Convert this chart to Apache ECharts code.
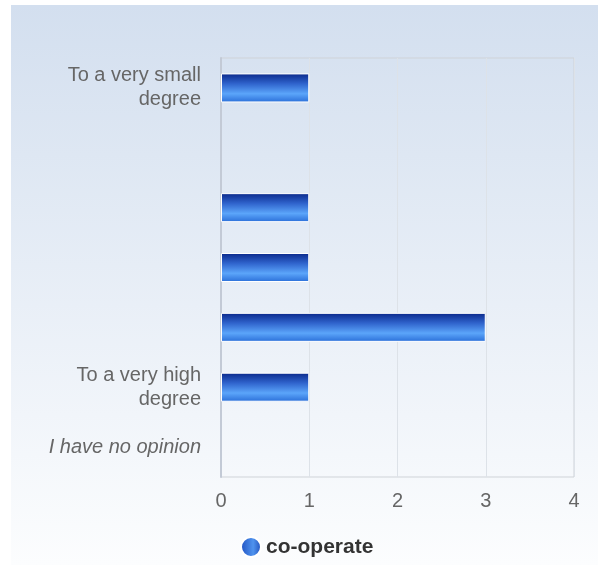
<!DOCTYPE html>
<html><head><meta charset="utf-8">
<script src="https://cdn.jsdelivr.net/npm/echarts@6/dist/echarts.min.js"></script>
<style>html,body{margin:0;padding:0;background:#fff;}#c{width:598px;height:565px;}</style>
</head><body><div id="c"></div>
<script>
var categories = ["To a very small\ndegree", "", "", "", "", "To a very high\ndegree", "I have no opinion"];
var italicCategory = "I have no opinion";
var seriesName = "co-operate";
var values = [1, 0, 1, 1, 3, 1, 0];
var xTicks = [0, 1, 2, 3, 4];

var chart = echarts.init(document.getElementById('c'));
var barGrad = new echarts.graphic.LinearGradient(0, 0, 0, 1, [
  {offset: 0, color: '#0a288a'},
  {offset: 0.35, color: '#2f63cc'},
  {offset: 0.7, color: '#5ba5fa'},
  {offset: 1, color: '#2a6ed8'}
]);
var legendGrad = new echarts.graphic.LinearGradient(0, 0, 1, 0, [
  {offset: 0, color: '#1e4fc0'},
  {offset: 0.6, color: '#4f93ee'},
  {offset: 1, color: '#1d4bb8'}
]);
var barData = values.map(function (v) {
  return v === 0 ? {value: v, itemStyle: {borderWidth: 0}} : v;
});
var FONT = 'Liberation Sans, Arial';
chart.setOption({
  animation: false,
  graphic: [{
    type: 'rect', z: -10, silent: true,
    shape: {x: 11, y: 5, width: 587, height: 560},
    style: {fill: new echarts.graphic.LinearGradient(0, 0, 0, 1, [
      {offset: 0, color: '#d3dfef'},
      {offset: 1, color: '#fcfdfe'}
    ])}
  }],
  grid: {left: 221, right: 24, top: 58, bottom: 88, show: true, borderColor: '#cfd3d8', borderWidth: 1, backgroundColor: 'transparent'},
  legend: {
    bottom: 2, left: 235,
    data: [{name: seriesName, icon: 'circle', itemStyle: {color: legendGrad}}],
    itemWidth: 20, itemHeight: 20, itemGap: 7,
    textStyle: {fontFamily: FONT, fontSize: 21, fontWeight: 'bold', color: '#333'}
  },
  xAxis: {
    type: 'value', min: 0, max: 4, interval: 1,
    axisLine: {show: false}, axisTick: {show: false},
    splitLine: {show: true, lineStyle: {color: '#dde2e8', width: 1}},
    axisLabel: {fontFamily: FONT, fontSize: 20, color: '#666', margin: 14,
      formatter: function (v) { return xTicks.indexOf(v) >= 0 ? String(v) : ''; }}
  },
  yAxis: {
    type: 'category', inverse: true, data: categories,
    axisLine: {show: true, lineStyle: {color: '#c3cad6', width: 2}},
    axisTick: {show: false},
    splitLine: {show: false},
    axisLabel: {
      fontFamily: FONT, fontSize: 20, color: '#666', margin: 20, lineHeight: 24, align: 'right',
      formatter: function (v) {
        if (v === italicCategory) return '{it|' + v + '}';
        return v;
      },
      rich: {it: {fontStyle: 'italic', fontFamily: FONT, fontSize: 20, color: '#666'}}
    }
  },
  series: [{
    name: seriesName, type: 'bar', data: barData, barWidth: 29,
    itemStyle: {color: barGrad, borderColor: '#ffffff', borderWidth: 1}
  }]
});
</script></body></html>
